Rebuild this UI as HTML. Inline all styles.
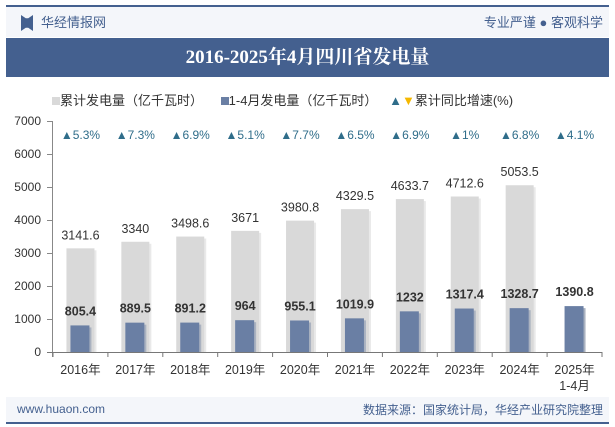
<!DOCTYPE html>
<html><head><meta charset="utf-8"><style>
body{margin:0;width:615px;height:427px;background:#fff;font-family:"Liberation Sans","Noto Sans CJK SC",sans-serif;overflow:hidden;position:relative}
.abs{position:absolute}
</style></head><body>
<div class="abs" style="left:6px;top:5px;width:603px;height:2px;background:#44608f"></div>
<div class="abs" style="left:6px;top:7px;width:603px;height:30px;background:#f4f6fa"></div>
<div class="abs" style="left:21px;top:15px;width:12px;height:16px;background:#44608f;clip-path:polygon(0 0,40% 20%,60% 20%,100% 0,100% 100%,60% 80%,40% 80%,0 100%)"></div>
<div class="abs" style="left:41px;top:12px;font-size:13px;color:#44608f">华经情报网</div>
<div class="abs" style="right:12px;top:12px;font-size:13px;color:#44608f">专业严谨 ● 客观科学</div>
<div class="abs" style="left:6px;top:38px;width:603px;height:39px;background:#44608f;color:#fff;font-family:'Liberation Serif','Noto Serif CJK SC',serif;font-weight:bold;font-size:19px;text-align:center;line-height:39px" >2016-2025年4月四川省发电量</div>
<div class="abs" style="left:52px;top:90px;font-size:13px;color:#333;white-space:nowrap">
<span><span style="display:inline-block;width:8px;height:8px;background:#d9d9d9"></span>累计发电量（亿千瓦时）</span>
<span style="margin-left:14px"><span style="display:inline-block;width:8px;height:8px;background:#6a7fa4"></span>1-4月发电量（亿千瓦时）</span>
<span style="margin-left:8px"><span style="color:#2f6d8a">▲</span><span style="color:#f5b800">▼</span>累计同比增速(%)</span>
</div>
<svg class="abs" style="left:0;top:0" width="615" height="427">
<g id="g"></g>
</svg>
<div class="abs" style="left:6px;top:397px;width:603px;height:25px;background:#f4f6fa"></div>
<div class="abs" style="left:17px;top:402px;font-size:12px;color:#44608f">www.huaon.com</div>
<div class="abs" style="right:12px;top:401px;font-size:12px;color:#44608f">数据来源：国家统计局，华经产业研究院整理</div>
<div class="abs" style="left:6px;top:422px;width:603px;height:2px;background:#44608f"></div>
<script>
const categories=["2016年","2017年","2018年","2019年","2020年","2021年","2022年","2023年","2024年","2025年"];
const totalValues=[3141.6,3340,3498.6,3671,3980.8,4329.5,4633.7,4712.6,5053.5,null];
const monthlyValues=[805.4,889.5,891.2,964,955.1,1019.9,1232,1317.4,1328.7,1390.8];
const growthValues=[5.3,7.3,6.9,5.1,7.7,6.5,6.9,1,6.8,4.1];
const yTicks=[0,1000,2000,3000,4000,5000,6000,7000];
const x0=53,x1=602,y0=352,yTop=121,yMax=7000;
const step=(x1-x0)/categories.length;
const xc=i=>x0+step*(i+0.5);
const y=v=>y0-(v/yMax)*(y0-yTop);
const ns="http://www.w3.org/2000/svg";
const g=document.getElementById('g');
function mk(t,a,txt){const e=document.createElementNS(ns,t);for(const k in a)e.setAttribute(k,a[k]);if(txt!=null)e.textContent=txt;g.appendChild(e);return e;}
yTicks.forEach(v=>{const e=mk('text',{x:41,y:y(v)+4,'text-anchor':'end','font-size':12,fill:'#333'},v);


const tk=mk('line',{x1:47,x2:52,y1:Math.round(y(v))+0.5,y2:Math.round(y(v))+0.5,stroke:'#888'});

});
const yax=mk('line',{x1:52.5,x2:52.5,y1:yTop,y2:y0+5,stroke:'#888'});


categories.forEach((c,i)=>{
 const cx=xc(i);
 if(totalValues[i]!=null){
  const s=mk('rect',{x:cx-12,y:y(totalValues[i])+2,width:28,height:y0-y(totalValues[i])-2,fill:'#e9e9e9'});
  
  
  const r=mk('rect',{x:cx-14,y:y(totalValues[i]),width:28,height:y0-y(totalValues[i]),fill:'#d9d9d9'});
  
  
  const t=mk('text',{x:cx,y:y(totalValues[i])-9,'text-anchor':'middle','font-size':12.5,fill:'#333'},totalValues[i]);
  
  
 }
 const sb=mk('rect',{x:cx-8,y:y(monthlyValues[i])+2,width:19,height:y0-y(monthlyValues[i])-2,fill:'#aab2c0'});
 
 
 const b=mk('rect',{x:cx-10,y:y(monthlyValues[i]),width:19,height:y0-y(monthlyValues[i]),fill:'#6a7fa4'});
 
 
 const bt=mk('text',{x:cx,y:y(monthlyValues[i])-10,'text-anchor':'middle','font-size':12.5,'font-weight':'bold',fill:'#333'},monthlyValues[i]);
 
 
 const gt=mk('text',{x:cx,y:139,'text-anchor':'middle','font-size':12,fill:'#2f6d8a'},(growthValues[i]>=0?'▲':'▼')+growthValues[i]+'%');
 
 
 const xl=mk('text',{x:cx,y:374,'text-anchor':'middle','font-size':12.5,fill:'#333'},c);
 
 
});
const sub=mk('text',{x:xc(9),y:390,'text-anchor':'middle','font-size':12.5,fill:'#333'},'1-4月');


const ax=mk('line',{x1:47,x2:x1,y1:y0+0.5,y2:y0+0.5,stroke:'#777'});


for(let i=0;i<=categories.length;i++){const tk=mk('line',{x1:x0+step*i,x2:x0+step*i,y1:y0,y2:y0+5,stroke:'#777'});

}
</script>
</body></html>
